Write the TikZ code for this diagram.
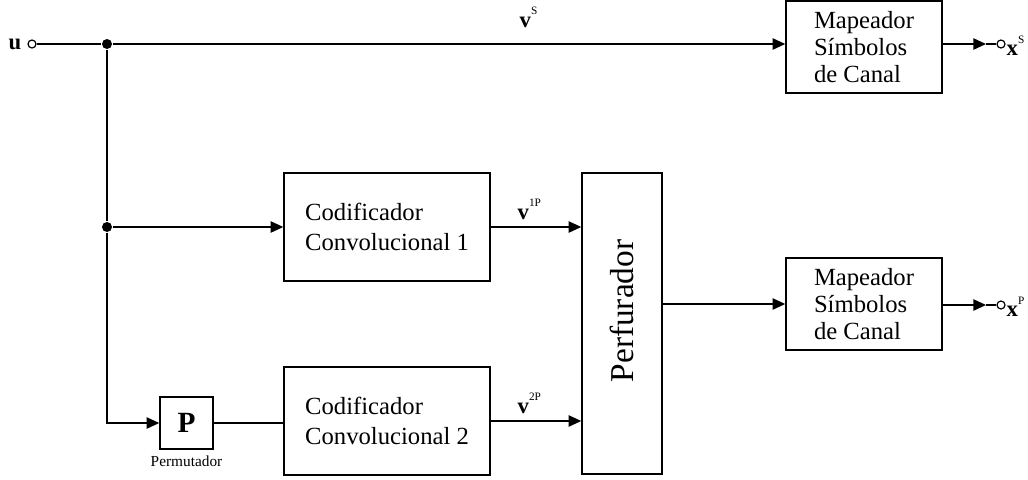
\documentclass[tikz,border=0pt]{standalone}
\usepackage{fontspec}
\setmainfont{Liberation Serif}
\usetikzlibrary{arrows.meta}

% bold signal name with a small upright superscript
\newcommand{\sig}[2]{\textbf{#1}\raisebox{0.55em}{\fontsize{8.5}{8.5}\selectfont #2}}

\begin{document}
\begin{tikzpicture}[x=0.75pt,y=-0.75pt,
  line width=1.1pt,
  blockbox/.style={draw, line width=1.1pt, inner sep=0pt, align=left},
  maptext/.style={font=\fontsize{18.5}{20}\selectfont},
  codtext/.style={font=\fontsize{18.5}{22}\selectfont},
  tip/.style={-{Triangle[length=9.5pt,width=8.5pt]}},
  dot/.style={circle, fill, inner sep=0pt, minimum size=7.5pt},
  port/.style={circle, draw, fill=white, inner sep=0pt, minimum size=6pt, line width=0.9pt},
  siglabel/.style={inner sep=0pt, font=\fontsize{17}{17}\selectfont},
]
\useasboundingbox (0,0) rectangle (1028,479);

% blocks
\node[blockbox, maptext, minimum width=117pt, minimum height=69pt] (map1) at (864,47)
  {Mapeador\\Símbolos\\de Canal};
\node[blockbox, maptext, minimum width=117pt, minimum height=69pt] (map2) at (864,304)
  {Mapeador\\Símbolos\\de Canal};
\node[blockbox, codtext, minimum width=154.5pt, minimum height=81pt] (cod1) at (387,227)
  {Codificador\\Convolucional 1};
\node[blockbox, codtext, minimum width=154.5pt, minimum height=81pt] (cod2) at (387,421)
  {Codificador\\Convolucional 2};
\node[blockbox, minimum width=60pt, minimum height=225.75pt] (perf) at (622,323.5) {};
\node[rotate=90, font=\fontsize{25}{25}\selectfont] (perflabel) at (622,311) {Perfurador};
\node[blockbox, minimum width=39.75pt, minimum height=39pt,
      font=\fontsize{22}{22}\selectfont\bfseries] (pbox) at (186.5,423) {P};
\node[inner sep=0pt, font=\fontsize{11.5}{11.5}\selectfont, anchor=north] (permlabel)
  at (186.5,455) {Permutador};

% input terminal and branch points
\node[siglabel, anchor=east] (ulabel) at (22,44) {\textbf{u}};
\node[port] (uin) at (32,44) {};
\node[dot] (j1) at (107,44) {};
\node[dot] (j2) at (107,227) {};

% connectors
\draw (uin) -- (j1);
\draw[tip] (j1) -- (j1 -| map1.west);
\draw (j1) -- (j2);
\draw[tip] (j2) -- (cod1.west);
\draw[tip] (j2) |- (pbox.west);
\draw (pbox.east) -- (pbox.east -| cod2.west);
\draw[tip] (cod1.east) -- (cod1.east -| perf.west);
\draw[tip] (cod2.east) -- (cod2.east -| perf.west);
\draw[tip] (map2.west -| perf.east) -- (map2.west);

% outputs
\coordinate (a1) at (986,44);
\coordinate (a2) at (986,305);
\node[port] (xs) at (1001,44) {};
\node[port] (xp) at (1001,305) {};
\draw[tip] (map1.east |- a1) -- (a1);
\draw (a1) -- (xs);
\draw[tip] (map2.east |- a2) -- (a2);
\draw (a2) -- (xp);

% signal labels
\node[siglabel, anchor=base west] (vs) at (519,27) {\sig{v}{S}};
\node[siglabel, anchor=base west] (v1) at (517,219) {\sig{v}{1P}};
\node[siglabel, anchor=base west] (v2) at (517,413) {\sig{v}{2P}};
\node[siglabel, anchor=west] (xsl) at (1006,46) {\sig{x}{S}};
\node[siglabel, anchor=west] (xpl) at (1006,307) {\sig{x}{P}};
\end{tikzpicture}
\end{document}
